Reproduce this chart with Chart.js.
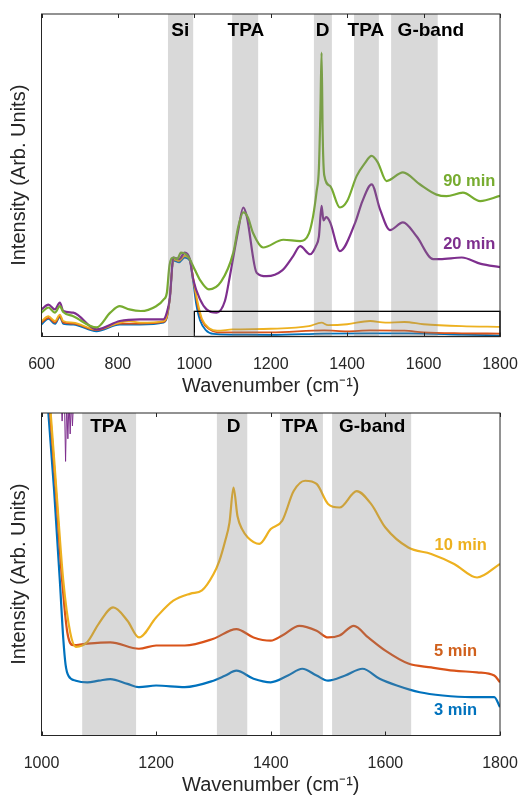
<!DOCTYPE html>
<html>
<head>
<meta charset="utf-8">
<script src="https://cdn.jsdelivr.net/npm/chart.js@4"></script>
<style>
  body { margin: 0; background: #fff; }
  canvas { display: block; }
</style>
</head>
<body>
<section><canvas id="top" width="523" height="399"></canvas></section>
<section><canvas id="bottom" width="523" height="399"></canvas></section>
<script>
// ---- top panel: 600-1800 cm-1 ----
const g90x = [600,618,635,648,657,683,744,780,805,830,860,900,920,928,935,945,955,965,978,988,997,1015,1038,1070,1102,1115,1128,1140,1154,1180,1233,1277,1300,1311,1320,1326,1330,1333,1336,1340,1355,1381,1400,1425,1445,1464,1480,1503,1546,1590,1634,1660,1703,1748,1800];
const g90y = [7.4,9,7.4,9.4,7.6,6.3,2.8,7.4,9.4,8.4,7.9,9.4,11.5,13.5,22,24.5,24,26,25.5,24,21.8,17.5,14.6,17,26,34,38.5,37,32,27.6,30,29.6,32,37.4,45,52,70,88,62,50,46.7,40,42,49.8,53.5,56,54,48.2,50.9,47.2,44,43.5,44.6,42,43.6];

const p20x = [600,618,635,648,657,683,744,805,858,919,928,936,945,960,975,988,997,1015,1032,1058,1080,1093,1115,1128,1137,1163,1189,1230,1259,1277,1303,1318,1326,1333,1338,1345,1355,1381,1420,1440,1464,1486,1512,1546,1582,1625,1643,1700,1750,1800];
const p20y = [8.4,9.9,8.4,10.5,7.9,7.4,2.2,4.8,5.3,5.3,7.4,12,24.5,24,26,24,17.7,11.5,8.4,7.4,11,18.7,33,40,37.4,19.8,18.7,20.5,25,28,25.5,28,31,40.5,36,37,35.5,26.5,35,42,47.2,39.4,33,35.4,31,24,24,24.5,22.5,21.5];

const o10Tx = [600,618,635,648,657,683,744,805,830,858,919,928,936,945,960,975,988,997,1008,1020,1040,1060,1100,1200,1300,1333,1350,1400,1460,1500,1550,1600,1700,1800];
const o10Ty = [4.8,6.3,4.8,6.8,4.8,4.3,2.2,4.3,4.8,4.3,4.8,6.3,12,24,23.5,25,24,18,11,5.5,2.5,1.8,2.2,2.4,3.2,4.3,3.5,3.8,4.8,4.3,4.5,3.8,3.2,3.0];

const r5Tx = [600,618,635,648,657,683,744,805,858,919,928,936,945,960,975,988,997,1008,1020,1040,1060,1100,1200,1340,1400,1460,1550,1600,1700,1800];
const r5Ty = [4.3,5.8,4.3,6.3,4.3,4.0,2.0,4.0,4.0,4.5,6.0,12,24,23.5,25,24,18,10,5,2.2,1.3,1.3,1.3,1.9,1.6,1.9,1.8,1.3,1.0,0.9];

const b3Tx = [600,618,635,648,657,683,744,805,858,919,928,936,945,960,975,988,997,1005,1015,1030,1050,1100,1200,1340,1460,1560,1700,1800];
const b3Ty = [3.7,5.5,3.9,6.0,3.9,3.7,1.6,3.7,3.7,4.3,5.8,12,23.5,23,24.5,23.5,17,10,5,2,0.8,0.6,0.5,0.9,1.0,1.0,0.6,0.3];

const topBandStart = [931,1099,1313,1418,1515];
const topBandEnd   = [997,1167,1360,1483,1637];
const topBandNames = ['Si','TPA','D','TPA','G-band'];
const topBandLabelX = [963,1135,1336,1449,1619];

const topSeriesNames = ['90 min','20 min'];
const topSeriesLabelX = [1788,1788];
const topSeriesLabelY = [48.1,28.6];

// ---- bottom panel: zoom of 1000-1800 cm-1 ----
const o10x = [1000,1016,1026,1038,1050,1060,1080,1100,1125,1150,1170,1200,1230,1260,1280,1300,1310,1320,1328,1335,1342,1350,1360,1380,1400,1420,1440,1460,1480,1500,1520,1550,1575,1600,1640,1680,1720,1760,1800];
const o10y = [130,100,76,48,32,27.5,29,34.7,39.7,35.6,30.4,36.6,41.8,44,45,50,54,60,66,76.9,68,64,61.4,59.4,64,66.6,75.8,79,78,71.8,70.7,75.8,71.8,64.5,58.3,56.3,53.2,49,53.2];

const r5x = [1000,1015,1025,1036,1045,1055,1080,1120,1170,1200,1250,1300,1340,1370,1400,1420,1450,1480,1500,1520,1545,1570,1600,1640,1680,1720,1760,1790,1800];
const r5y = [130,100,76,48,32,28,28.5,28.9,26.9,27.9,27.9,30,33,30.4,29.4,31,34,32.5,30.4,31,34,30.4,26.3,22.3,21.1,20.1,19.6,18.6,16.5];

const b3x = [1000,1012,1022,1032,1038,1042,1047,1060,1080,1100,1120,1150,1170,1200,1250,1300,1320,1340,1370,1400,1430,1455,1480,1500,1530,1560,1590,1620,1660,1700,1750,1790,1800];
const b3y = [130,100,76,48,30,22,18.5,17,16.5,17,17.5,16,15,15.5,15,17,18.5,20.1,17.6,16.5,18.6,20.7,18.6,17,18.6,20.7,17.6,15.5,13.4,12.4,11.9,11.9,8.8];

const p20Bx = [1034,1036,1038,1040,1042,1044,1046,1048,1050,1052,1054,1056,1058];
const p20By = [105,97.5,105,104,85,104,92,104,93.5,104,96,104,105];

const botBandStart = [1071,1306,1416,1507];
const botBandEnd   = [1165,1359,1491,1645];
const botBandNames = ['TPA','D','TPA','G-band'];
const botBandLabelX = [1117,1335,1451,1577];

const botSeriesNames = ['10 min','5 min','3 min'];
const botSeriesLabelX = [1777,1760,1760];
const botSeriesLabelY = [58.8,26,7.7];

const GREEN = '#77ac30', PURPLE = '#7e2f8e', ORANGE = '#edb120', RED = '#d95319', BLUE = '#0072bd';
const INK = '#262626';

Chart.defaults.font.family = '"Liberation Sans", Arial, sans-serif';
Chart.defaults.color = INK;

function pts(xs, ys) {
    return xs.map((x, i) => ({ x: x, y: ys[i] }));
}

function line(xs, ys, color, width, smooth) {
    return {
        data: pts(xs, ys),
        borderColor: color,
        borderWidth: width,
        pointRadius: 0,
        cubicInterpolationMode: smooth ? 'monotone' : 'default',
        tension: 0,
        clip: 0
    };
}

// grey bands over the lines, labels, box frame with inward ticks
const decor = {
    id: 'decor',
    afterDatasetsDraw(chart, args, o) {
        const ctx = chart.ctx, a = chart.chartArea, x = chart.scales.x, y = chart.scales.y;
        ctx.save();
        ctx.fillStyle = 'rgba(128,128,128,0.3)';
        o.bandStart.forEach((s, i) => {
            const x1 = x.getPixelForValue(s), x2 = x.getPixelForValue(o.bandEnd[i]);
            ctx.fillRect(x1, a.top, x2 - x1, a.bottom - a.top);
        });

        ctx.fillStyle = '#000';
        ctx.font = 'bold 19px "Liberation Sans", Arial, sans-serif';
        ctx.textAlign = 'center';
        ctx.textBaseline = 'middle';
        o.bandNames.forEach((n, i) => ctx.fillText(n, x.getPixelForValue(o.bandLabelX[i]), a.top + o.labelDy));

        ctx.font = 'bold 16.5px "Liberation Sans", Arial, sans-serif';
        ctx.textAlign = 'right';
        o.names.forEach((n, i) => {
            ctx.fillStyle = o.colors[i];
            ctx.fillText(n, x.getPixelForValue(o.nameX[i]), y.getPixelForValue(o.nameY[i]));
        });

        if (o.inset) {
            ctx.strokeStyle = '#000';
            ctx.lineWidth = 1.3;
            const x1 = x.getPixelForValue(o.inset[0]), x2 = x.getPixelForValue(o.inset[1]);
            const y1 = y.getPixelForValue(o.inset[2]), y2 = y.getPixelForValue(o.inset[3]);
            ctx.strokeRect(x1, y2, x2 - x1, y1 - y2);
        }

        ctx.strokeStyle = INK;
        ctx.lineWidth = 1;
        ctx.strokeRect(a.left, a.top, a.right - a.left, a.bottom - a.top);
        x.ticks.forEach(t => {
            const px = Math.round(x.getPixelForValue(t.value)) + 0.5;
            ctx.beginPath();
            ctx.moveTo(px, a.bottom); ctx.lineTo(px, a.bottom - 4);
            ctx.moveTo(px, a.top); ctx.lineTo(px, a.top + 4);
            ctx.stroke();
        });
        ctx.restore();
    }
};

function makeChart(id, datasets, xmin, xmax, decorOpts) {
    return new Chart(document.getElementById(id), {
        type: 'line',
        data: { datasets: datasets },
        plugins: [decor],
        options: {
            responsive: false,
            animation: false,
            events: [],
            layout: { padding: { top: 14, right: 23, left: 0, bottom: 0 } },
            plugins: { legend: { display: false }, tooltip: { enabled: false }, decor: decorOpts },
            scales: {
                x: {
                    type: 'linear', min: xmin, max: xmax,
                    ticks: { stepSize: 200, font: { size: 16 }, color: INK, padding: 10, maxRotation: 0, callback: v => String(v) },
                    grid: { display: false },
                    border: { display: false },
                    title: { display: true, text: 'Wavenumber (cm\u207B\u00B9)', font: { size: 20 }, color: INK, padding: { top: 0, bottom: 1 } },
                    afterFit: s => { s.height = 62.5; s.paddingLeft = 0; s.paddingRight = 0; }
                },
                y: {
                    min: 0, max: 100,
                    ticks: { display: false },
                    grid: { display: false },
                    border: { display: false },
                    title: { display: true, text: 'Intensity (Arb. Units)', font: { size: 20 }, color: INK, padding: { top: 7, bottom: 0 } },
                    afterFit: s => { s.width = 41.5; }
                }
            }
        }
    });
}

makeChart('top', [
    line(g90x, g90y, GREEN, 2.2, true),
    line(p20x, p20y, PURPLE, 2.2, true),
    line(o10Tx, o10Ty, ORANGE, 1.8, true),
    line(r5Tx, r5Ty, RED, 1.8, true),
    line(b3Tx, b3Ty, BLUE, 1.8, true)
], 600, 1800, {
    bandStart: topBandStart, bandEnd: topBandEnd, bandNames: topBandNames, bandLabelX: topBandLabelX, labelDy: 17,
    names: topSeriesNames, nameX: topSeriesLabelX, nameY: topSeriesLabelY, colors: [GREEN, PURPLE],
    inset: [1000, 1800, 0, 7.8]
});

makeChart('bottom', [
    line(o10x, o10y, ORANGE, 2.2, true),
    line(r5x, r5y, RED, 2.2, true),
    line(b3x, b3y, BLUE, 2.2, true),
    line(p20Bx, p20By, PURPLE, 1, false)
], 1000, 1800, {
    bandStart: botBandStart, bandEnd: botBandEnd, bandNames: botBandNames, bandLabelX: botBandLabelX, labelDy: 14,
    names: botSeriesNames, nameX: botSeriesLabelX, nameY: botSeriesLabelY, colors: [ORANGE, '#d0601c', BLUE]
});
</script>
</body>
</html>
